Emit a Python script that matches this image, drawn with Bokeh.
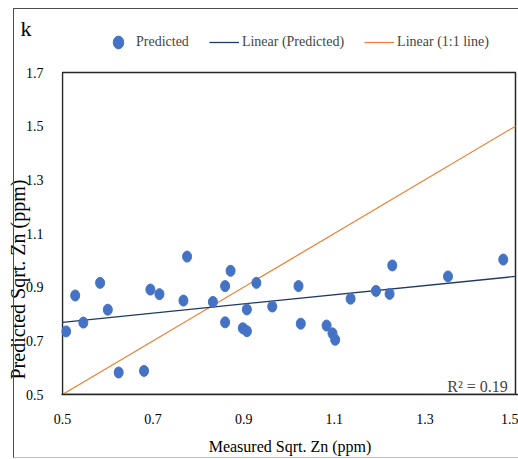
from bokeh.plotting import figure
from bokeh.models import Range1d, Label, Legend, LegendItem, FixedTicker, Title, InlineStyleSheet
from bokeh.embed import file_html
from bokeh.resources import INLINE

# Data
measured = [0.508, 0.528, 0.546, 0.583, 0.600, 0.624, 0.680, 0.694, 0.714, 0.775,
            0.767, 0.832, 0.859, 0.871, 0.859, 0.898, 0.907, 0.907, 0.928, 0.963,
            1.021, 1.026, 1.083, 1.096, 1.102, 1.136, 1.192, 1.222, 1.228, 1.351, 1.473]
predicted = [0.735, 0.869, 0.768, 0.916, 0.816, 0.582, 0.588, 0.891, 0.874, 1.014,
             0.850, 0.845, 0.904, 0.961, 0.769, 0.747, 0.736, 0.817, 0.916, 0.828,
             0.904, 0.764, 0.757, 0.728, 0.704, 0.857, 0.886, 0.875, 0.981, 0.940, 1.003]
trend_x = [0.5, 1.5]
trend_y = [0.769, 0.940]          # linear trendline as drawn in the reference
one_to_one_x = [0.5, 1.5]
one_to_one_y = [0.5, 1.5]
x_ticks = [0.5, 0.7, 0.9, 1.1, 1.3, 1.5]
y_ticks = [0.5, 0.7, 0.9, 1.1, 1.3, 1.5, 1.7]
r2_text = "R² = 0.19"
panel_letter = "k"
x_title = "Measured Sqrt. Zn (ppm)"
y_title = "Predicted Sqrt.  Zn (ppm)"
series_names = ["Predicted", "Linear (Predicted)", "Linear (1:1 line)"]

FONT = "Liberation Serif"
BLUE = "#4472C4"
NAVY = "#1F3864"
ORANGE = "#ED7D31"
DARK = "#262626"

PX_X = 452.7   # pixels per x unit
PX_Y = 268.3   # pixels per y unit
x0, x1 = x_ticks[0], x_ticks[-1]
y0, y1 = y_ticks[0], y_ticks[-1]

# frame extends above the plot box so the legend row is drawn inside it
p = figure(width=518, height=459, output_backend="svg", toolbar_location=None,
           x_range=Range1d(x0 - 1 / PX_X, x1 + 3 / PX_X),
           y_range=Range1d(y0, y1 + 38 / PX_Y),
           min_border_left=61, min_border_right=0, min_border_top=34, min_border_bottom=65)
p.xgrid.visible = False
p.ygrid.visible = False
p.outline_line_color = None
p.background_fill_color = "white"
p.border_fill_color = "white"

# outer chart border (CSS overlay)
p.stylesheets = [InlineStyleSheet(css="""
:host::after { content: ""; position: absolute; left: 13px; top: 8px; right: 0px; bottom: 1px;
  border-left: 1.3px solid #4d4d4d; border-top: 1.3px solid #4d4d4d;
  border-bottom: 1.3px solid #bfbfbf; border-right: none; pointer-events: none; z-index: 5; }
""")]

for ax in (p.xaxis[0], p.yaxis[0]):
    ax.major_tick_line_color = None
    ax.minor_tick_line_color = None
    ax.major_label_text_font = FONT
    ax.major_label_text_font_size = "14px"
    ax.major_label_text_color = "black"
    ax.axis_label_text_font = FONT
    ax.axis_label_text_font_style = "normal"
    ax.axis_label_text_color = "black"
p.xaxis.axis_line_color = DARK
p.xaxis.axis_line_width = 1.5
p.yaxis.axis_line_color = None

p.xaxis.ticker = FixedTicker(ticks=x_ticks)
p.yaxis.ticker = FixedTicker(ticks=y_ticks)
p.xaxis.major_label_overrides = {v: f"{v:.1f}" for v in x_ticks}
p.yaxis.major_label_overrides = {v: f"{v:.1f}" for v in y_ticks}
p.xaxis.major_label_standoff = 13
p.yaxis.major_label_standoff = 12
p.xaxis.axis_label = x_title
p.xaxis.axis_label_text_font_size = "16px"
p.xaxis.axis_label_standoff = 11

# y-axis title as a side title so it can be positioned along the axis
p.add_layout(Title(text=y_title, align="left", offset=15, standoff=-12,
                   text_font=FONT, text_font_size="20px", text_font_style="normal",
                   text_color="black"), "left")

# panel letter
p.title.text = panel_letter
p.title.align = "left"
p.title.offset = -41
p.title.standoff = -12
p.title.text_font = FONT
p.title.text_font_size = "22px"
p.title.text_font_style = "normal"
p.title.text_color = "black"

# plot area box
p.quad(left=[x0], right=[x1], bottom=[y0], top=[y1], fill_alpha=0,
       line_color=DARK, line_width=1.5)

orange = p.line(one_to_one_x, one_to_one_y, line_color=ORANGE, line_width=1.2)
trend = p.line(trend_x, trend_y, line_color=NAVY, line_width=1.3)
pts = p.ellipse(measured, predicted, width=9, height=11, width_units="screen",
                height_units="screen", fill_color=BLUE, line_color=BLUE)

legend = Legend(items=[LegendItem(label=series_names[0], renderers=[pts]),
                       LegendItem(label=series_names[1], renderers=[trend]),
                       LegendItem(label=series_names[2], renderers=[orange])],
                location=(42, 344), orientation="horizontal", glyph_width=30, glyph_height=16,
                label_height=16, label_standoff=3, spacing=20, padding=0, margin=0,
                border_line_color=None, background_fill_alpha=0,
                label_text_font=FONT, label_text_font_size="14px")
p.add_layout(legend)

p.add_layout(Label(x=1.483, y=y0 + 8 / PX_Y, text=r2_text, text_align="right",
                   text_font=FONT, text_font_size="16px", text_baseline="alphabetic"))

open("out.html", "w").write(file_html(p, INLINE))
